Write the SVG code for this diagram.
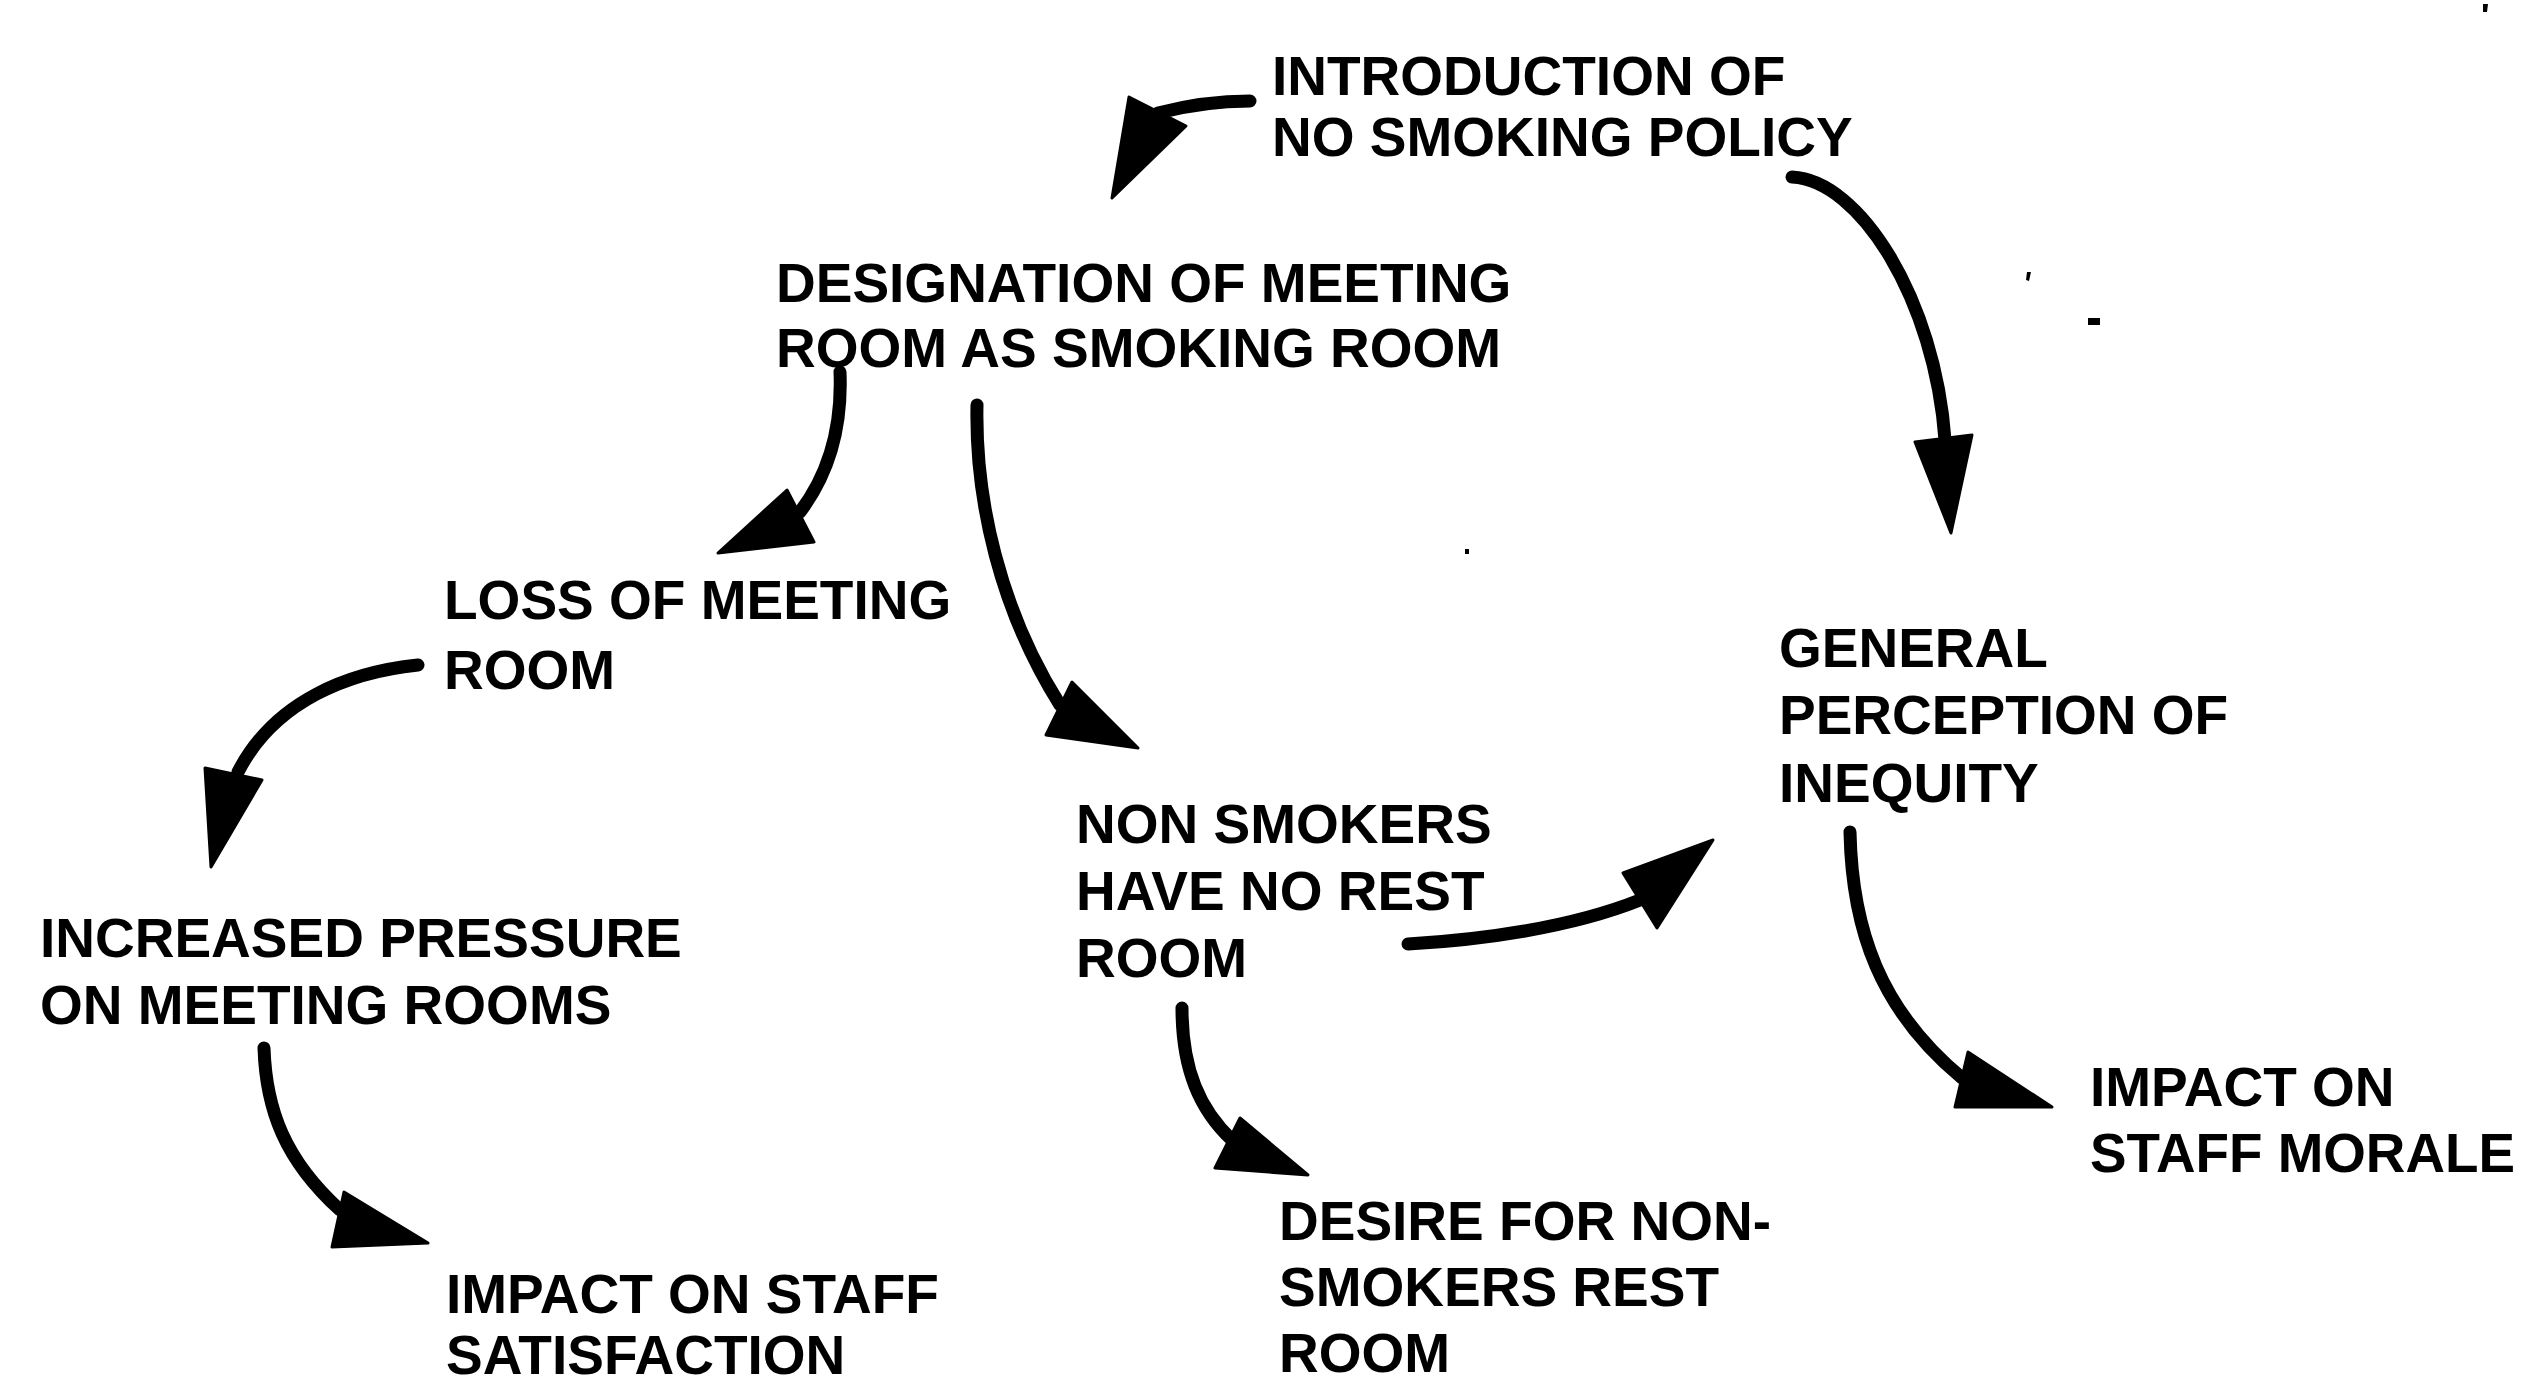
<svg xmlns="http://www.w3.org/2000/svg" width="2521" height="1386" viewBox="0 0 2521 1386">
  <style>
    .lbl { font-family: "Liberation Sans", Arial, Helvetica, sans-serif; font-weight: bold; font-size: 55px; fill: #000; }
    .wire { fill: none; stroke: #000; stroke-width: 13; stroke-linecap: round; stroke-linejoin: round; }
    .head { fill: #000; stroke: #000; stroke-width: 3; stroke-linejoin: round; }
    .speck { fill: #000; }
  </style>
  <rect x="0" y="0" width="2521" height="1386" fill="#fff"/>

  <!-- causal links: curved strokes with solid triangular heads -->
  <g id="connectors">
    <!-- policy -> designation -->
    <path class="wire" d="M1250,101 C1215,101 1185,106 1158,113"/>
    <polygon class="head" points="1129,97 1186,126 1112,198"/>
    <!-- policy -> perception of inequity -->
    <path class="wire" d="M1792,177 C1860,180 1935,300 1945,440"/>
    <polygon class="head" points="1915,442 1972,435 1951,533"/>
    <!-- designation -> loss of meeting room -->
    <path class="wire" d="M840,372 C842,420 832,470 800,512"/>
    <polygon class="head" points="787,490 814,542 718,553"/>
    <!-- designation -> non smokers have no rest room -->
    <path class="wire" d="M977,405 C975,500 1000,610 1060,705"/>
    <polygon class="head" points="1072,682 1046,735 1138,748"/>
    <!-- loss of meeting room -> increased pressure -->
    <path class="wire" d="M418,665 C350,672 275,700 238,772"/>
    <polygon class="head" points="205,768 262,780 211,867"/>
    <!-- increased pressure -> staff satisfaction -->
    <path class="wire" d="M264,1048 C266,1110 285,1160 340,1210"/>
    <polygon class="head" points="344,1192 332,1247 428,1243"/>
    <!-- no rest room -> perception of inequity -->
    <path class="wire" d="M1408,944 C1480,940 1570,928 1640,900"/>
    <polygon class="head" points="1623,873 1657,928 1713,840"/>
    <!-- no rest room -> desire for non-smokers rest room -->
    <path class="wire" d="M1182,1008 C1182,1070 1200,1110 1232,1140"/>
    <polygon class="head" points="1240,1118 1215,1168 1308,1175"/>
    <!-- perception of inequity -> staff morale -->
    <path class="wire" d="M1850,832 C1852,930 1880,1010 1962,1078"/>
    <polygon class="head" points="1968,1052 1955,1107 2052,1107"/>
  </g>

  <g id="node-policy">
    <text class="lbl" x="1272" y="95">INTRODUCTION OF</text>
    <text class="lbl" x="1272" y="156">NO SMOKING POLICY</text>
  </g>
  <g id="node-designation">
    <text class="lbl" x="776" y="302">DESIGNATION OF MEETING</text>
    <text class="lbl" x="776" y="367">ROOM AS SMOKING ROOM</text>
  </g>
  <g id="node-loss">
    <text class="lbl" x="444" y="619">LOSS OF MEETING</text>
    <text class="lbl" x="444" y="689">ROOM</text>
  </g>
  <g id="node-pressure">
    <text class="lbl" x="40" y="957">INCREASED PRESSURE</text>
    <text class="lbl" x="40" y="1024">ON MEETING ROOMS</text>
  </g>
  <g id="node-satisfaction">
    <text class="lbl" x="446" y="1313">IMPACT ON STAFF</text>
    <text class="lbl" x="446" y="1374">SATISFACTION</text>
  </g>
  <g id="node-no-rest-room">
    <text class="lbl" x="1076" y="843">NON SMOKERS</text>
    <text class="lbl" x="1076" y="910">HAVE NO REST</text>
    <text class="lbl" x="1076" y="977">ROOM</text>
  </g>
  <g id="node-desire">
    <text class="lbl" x="1279" y="1240">DESIRE FOR NON-</text>
    <text class="lbl" x="1279" y="1306">SMOKERS REST</text>
    <text class="lbl" x="1279" y="1372">ROOM</text>
  </g>
  <g id="node-inequity">
    <text class="lbl" x="1779" y="667">GENERAL</text>
    <text class="lbl" x="1779" y="734">PERCEPTION OF</text>
    <text class="lbl" x="1779" y="802">INEQUITY</text>
  </g>
  <g id="node-morale">
    <text class="lbl" x="2090" y="1106">IMPACT ON</text>
    <text class="lbl" x="2090" y="1172" textLength="425" lengthAdjust="spacingAndGlyphs">STAFF MORALE</text>
  </g>

  <!-- stray marks -->
  <g id="specks">
    <path class="speck" d="M2027,272 l4,0 l-2,9 l-3,-1 z"/>
    <rect class="speck" x="2088" y="318" width="12" height="7"/>
    <rect class="speck" x="1465" y="549" width="4" height="5"/>
    <path class="speck" d="M2483,4 l5,0 l-1,8 l-4,0 z"/>
  </g>
</svg>
